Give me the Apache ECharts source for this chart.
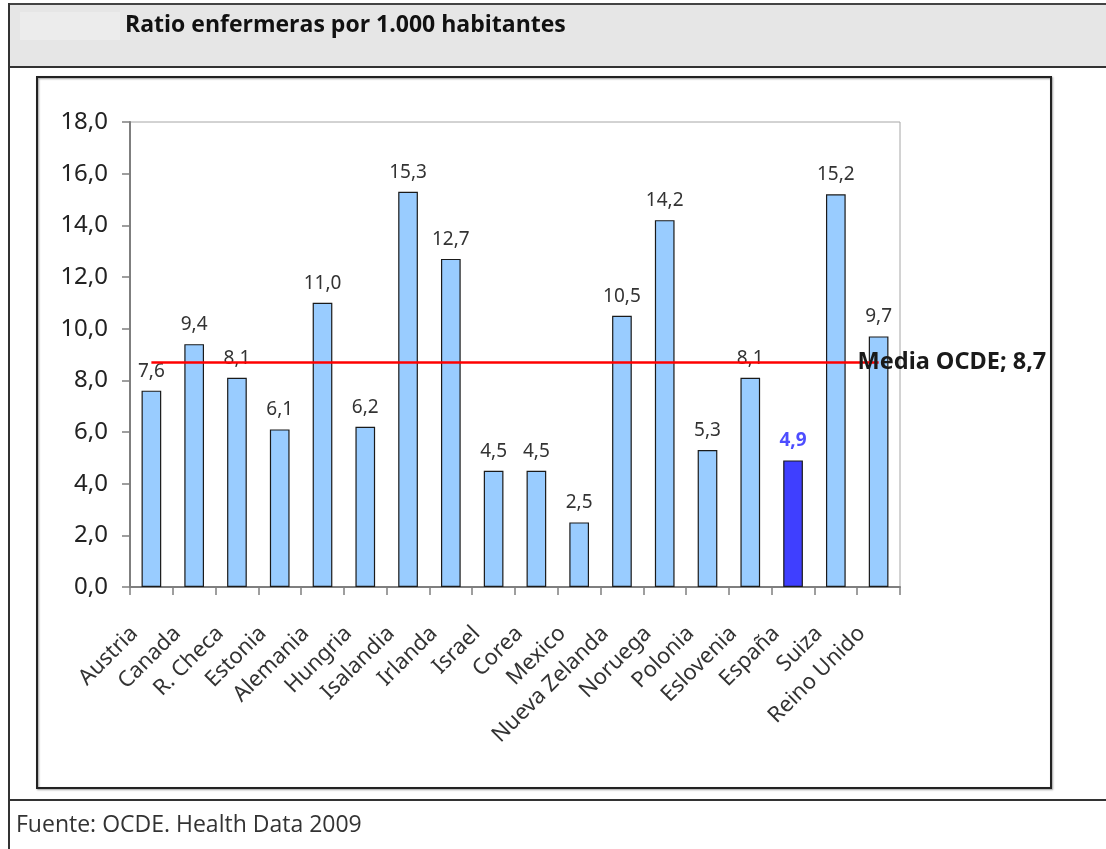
<!DOCTYPE html>
<html>
<head>
<meta charset="utf-8">
<script src="https://cdn.jsdelivr.net/npm/echarts@6/dist/echarts.min.js"></script>
<style>
html,body{margin:0;padding:0;background:#fff;}
#c{width:1106px;height:849px;}
</style>
</head>
<body>
<div id="c"></div>
<script>
const categories = ['Austria','Canada','R. Checa','Estonia','Alemania','Hungria','Isalandia','Irlanda','Israel','Corea','Mexico','Nueva Zelanda','Noruega','Polonia','Eslovenia','España','Suiza','Reino Unido'];
const nurseRatio = [7.6, 9.4, 8.1, 6.1, 11.0, 6.2, 15.3, 12.7, 4.5, 4.5, 2.5, 10.5, 14.2, 5.3, 8.1, 4.9, 15.2, 9.7];
const highlightCountry = 'España';
const oecdMean = 8.7;
const yTicks = [0, 2, 4, 6, 8, 10, 12, 14, 16, 18];
const titleText = 'Ratio enfermeras por 1.000 habitantes';
const sourceText = 'Fuente: OCDE. Health Data 2009';

const fmt = v => Number(v).toFixed(1).replace('.', ',');
const FONT = 'Noto Sans';

const chart = echarts.init(document.getElementById('c'), null, {renderer: 'canvas'});

const barData = nurseRatio.map((v, i) => {
  const item = {value: v};
  if (categories[i] === highlightCountry) {
    item.itemStyle = {color: '#3f3fff'};
    item.label = {color: '#4d4dff', fontWeight: 'bold'};
  }
  return item;
});

chart.setOption({
  animation: false,
  backgroundColor: '#ffffff',
  textStyle: {fontFamily: FONT},
  graphic: [
    // header band
    {type: 'rect', shape: {x: 9, y: 4, width: 1100, height: 63}, style: {fill: '#e6e6e6', stroke: null}, z: 0},
    {type: 'rect', shape: {x: 20, y: 12, width: 100, height: 28}, style: {fill: '#ececec'}, z: 1},
    {type: 'line', shape: {x1: 9, y1: 4, x2: 1106, y2: 4}, style: {stroke: '#444', lineWidth: 2}, z: 2},
    {type: 'line', shape: {x1: 9, y1: 67, x2: 1106, y2: 67}, style: {stroke: '#333', lineWidth: 2}, z: 2},
    {type: 'line', shape: {x1: 9, y1: 800, x2: 1106, y2: 800}, style: {stroke: '#333', lineWidth: 2}, z: 2},
    {type: 'line', shape: {x1: 9, y1: 3, x2: 9, y2: 849}, style: {stroke: '#333', lineWidth: 2}, z: 2},
    // chart frame
    {type: 'rect', shape: {x: 37, y: 77, width: 1014, height: 711}, style: {fill: 'none', stroke: '#222', lineWidth: 2, shadowBlur: 2, shadowColor: 'rgba(0,0,0,0.4)', shadowOffsetX: 1, shadowOffsetY: 1}, z: 2},
    // texts
    {type: 'text', left: 125, top: 14, style: {text: titleText, font: 'bold 23px "Open Sans"', fill: '#111'}, z: 3},
    {type: 'text', left: 16, top: 814, style: {text: sourceText, font: '23px "Open Sans"', fill: '#333'}, z: 3}
  ],
  grid: {
    left: 130, right: 206, top: 122, bottom: 262,
    show: true, borderColor: '#a6a6a6', borderWidth: 1, backgroundColor: 'transparent'
  },
  xAxis: {
    type: 'category',
    data: categories,
    boundaryGap: true,
    axisLine: {show: true, lineStyle: {color: '#7f7f7f', width: 2}},
    axisTick: {show: true, length: 8, lineStyle: {color: '#7f7f7f', width: 1.5}},
    axisLabel: {
      interval: 0, rotate: 45, margin: 26, fontSize: 22, color: '#333', fontFamily: FONT,
      padding: [0, 24, 0, 0]
    },
    splitLine: {show: false}
  },
  yAxis: {
    type: 'value',
    min: yTicks[0], max: yTicks[yTicks.length - 1], interval: yTicks[1] - yTicks[0],
    axisLine: {show: true, lineStyle: {color: '#7f7f7f', width: 2}},
    axisTick: {show: true, length: 8, lineStyle: {color: '#7f7f7f', width: 1.5}},
    axisLabel: {margin: 22, fontSize: 24, color: '#222', fontFamily: FONT, formatter: v => fmt(v)},
    splitLine: {show: false}
  },
  series: [{
    type: 'bar',
    data: barData,
    barWidth: '46%',
    itemStyle: {color: '#99ccff', borderColor: '#1a1a1a', borderWidth: 1.2},
    label: {show: true, position: 'top', distance: 10, fontSize: 19, color: '#333', fontFamily: FONT, formatter: p => fmt(p.value)},
    markLine: {
      silent: true,
      symbol: 'none',
      lineStyle: {color: '#ff0000', width: 2.5, type: 'solid'},
      label: {
        show: true, position: 'end', distance: -21,
        formatter: 'Media OCDE; ' + fmt(oecdMean),
        fontSize: 23.5, fontWeight: 'bold', color: '#1a1a1a', fontFamily: FONT
      },
      data: [[
        {coord: [categories[0], oecdMean]},
        {coord: [categories[categories.length - 1], oecdMean]}
      ]],
      z: 5
    }
  }]
});
</script>
</body>
</html>
